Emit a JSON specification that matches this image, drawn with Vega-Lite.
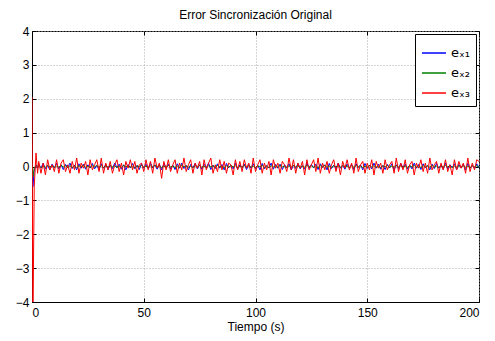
{
  "$schema": "https://vega.github.io/schema/vega-lite/v6.json",
  "autosize": "none",
  "width": 447,
  "height": 271,
  "padding": {"left": 32, "top": 31, "right": 16, "bottom": 39},
  "background": "white",
  "config": {
    "font": "Liberation Sans",
    "view": {"stroke": "black", "strokeWidth": 1},
    "axis": {"labelFont": "Liberation Sans", "titleFont": "Liberation Sans", "labelFontSize": 12, "titleFontSize": 12, "titleFontWeight": "normal", "labelColor": "black", "titleColor": "black", "domainColor": "black", "tickColor": "black", "gridColor": "#a8a8a8", "gridDash": [1, 2], "gridOpacity": 1, "tickSize": -4}
  },
  "title": {"text": "Error Sincronización Original", "font": "Liberation Sans", "fontSize": 12, "fontWeight": "normal", "color": "black", "offset": 3},
  "datasets": {
    "marco": [{"t": 0, "valor": 0}, {"t": 200, "valor": 0}],
    "errores": [
    {"t":0,"e1":0,"e2":0.1,"e3":2.05},
    {"t":0.4,"e1":-0.6,"e2":-0.3,"e3":-4.6},
    {"t":1,"e1":-0.1,"e2":-0.05,"e3":-0.6},
    {"t":1.8,"e1":0.05,"e2":0.03,"e3":0.4},
    {"t":2.5,"e1":-0.05,"e2":-0.02,"e3":-0.2},
    {"t":3,"e1":0.08,"e2":0.02,"e3":0.15},
    {"t":4,"e1":-0.05,"e2":-0.03,"e3":-0.2},
    {"t":5,"e1":0.1,"e2":0.01,"e3":0.1},
    {"t":6,"e1":-0.08,"e2":-0.02,"e3":-0.25},
    {"t":7,"e1":0.03,"e2":0.03,"e3":0.2},
    {"t":8,"e1":-0.1,"e2":-0.01,"e3":-0.1},
    {"t":9,"e1":0.07,"e2":0.02,"e3":0.05},
    {"t":10,"e1":-0.04,"e2":-0.03,"e3":-0.15},
    {"t":11,"e1":0.09,"e2":0.01,"e3":0.2},
    {"t":12,"e1":-0.07,"e2":-0.02,"e3":-0.2},
    {"t":13,"e1":0.05,"e2":0.03,"e3":0.1},
    {"t":14,"e1":-0.09,"e2":-0.01,"e3":0.2},
    {"t":15,"e1":0.06,"e2":0.02,"e3":-0.15},
    {"t":16,"e1":-0.03,"e2":-0.03,"e3":0.05},
    {"t":17,"e1":0.1,"e2":0.02,"e3":-0.2},
    {"t":18,"e1":-0.06,"e2":-0.02,"e3":0.15},
    {"t":19,"e1":0.04,"e2":0.01,"e3":-0.1},
    {"t":20,"e1":-0.1,"e2":-0.03,"e3":0.25},
    {"t":21,"e1":0.08,"e2":0.02,"e3":-0.2},
    {"t":22,"e1":-0.05,"e2":-0.01,"e3":0.1},
    {"t":23,"e1":0.07,"e2":0.03,"e3":-0.05},
    {"t":24,"e1":-0.08,"e2":-0.02,"e3":0.15},
    {"t":25,"e1":0.05,"e2":0.01,"e3":-0.25},
    {"t":26,"e1":-0.04,"e2":-0.03,"e3":0.2},
    {"t":27,"e1":0.09,"e2":0.02,"e3":-0.1},
    {"t":28,"e1":-0.07,"e2":-0.01,"e3":0.05},
    {"t":29,"e1":0.03,"e2":0.03,"e3":0.2},
    {"t":30,"e1":-0.1,"e2":-0.02,"e3":-0.15},
    {"t":31,"e1":0.08,"e2":0.02,"e3":0.25},
    {"t":32,"e1":-0.05,"e2":-0.03,"e3":-0.2},
    {"t":33,"e1":0.06,"e2":0.01,"e3":0.1},
    {"t":34,"e1":-0.09,"e2":-0.02,"e3":-0.1},
    {"t":35,"e1":0.04,"e2":0.03,"e3":0.15},
    {"t":36,"e1":-0.06,"e2":-0.01,"e3":-0.2},
    {"t":37,"e1":0.1,"e2":0.02,"e3":0.05},
    {"t":38,"e1":-0.03,"e2":-0.03,"e3":0.2},
    {"t":39,"e1":0.07,"e2":0.01,"e3":-0.15},
    {"t":40,"e1":-0.08,"e2":-0.02,"e3":0.1},
    {"t":41,"e1":0.05,"e2":0.03,"e3":-0.25},
    {"t":42,"e1":-0.1,"e2":-0.01,"e3":0.15},
    {"t":43,"e1":0.06,"e2":0.02,"e3":-0.05},
    {"t":44,"e1":-0.04,"e2":-0.02,"e3":0.2},
    {"t":45,"e1":0.09,"e2":0.01,"e3":-0.1},
    {"t":46,"e1":-0.07,"e2":-0.03,"e3":0.15},
    {"t":47,"e1":0.03,"e2":0.02,"e3":-0.2},
    {"t":48,"e1":-0.09,"e2":-0.01,"e3":0.05},
    {"t":49,"e1":0.08,"e2":0.03,"e3":0.1},
    {"t":50,"e1":-0.05,"e2":-0.02,"e3":-0.15},
    {"t":51,"e1":0.07,"e2":0.01,"e3":0.2},
    {"t":52,"e1":-0.06,"e2":-0.03,"e3":-0.1},
    {"t":53,"e1":0.1,"e2":0.02,"e3":0.15},
    {"t":54,"e1":-0.04,"e2":-0.01,"e3":-0.2},
    {"t":55,"e1":0.05,"e2":0.03,"e3":0.25},
    {"t":56,"e1":-0.08,"e2":-0.02,"e3":-0.05},
    {"t":57,"e1":0.06,"e2":0.02,"e3":0.1},
    {"t":58,"e1":-0.1,"e2":-0.03,"e3":-0.35},
    {"t":59,"e1":0.09,"e2":0.01,"e3":0.15},
    {"t":60,"e1":-0.03,"e2":-0.02,"e3":-0.1},
    {"t":61,"e1":0.07,"e2":0.03,"e3":0.2},
    {"t":62,"e1":-0.07,"e2":-0.01,"e3":-0.15},
    {"t":63,"e1":0.04,"e2":0.02,"e3":0.05},
    {"t":64,"e1":-0.09,"e2":-0.03,"e3":0.2},
    {"t":65,"e1":0.08,"e2":0.01,"e3":-0.2},
    {"t":66,"e1":-0.05,"e2":-0.02,"e3":0.1},
    {"t":67,"e1":0.1,"e2":0.03,"e3":-0.1},
    {"t":68,"e1":-0.06,"e2":-0.01,"e3":0.25},
    {"t":69,"e1":0.03,"e2":0.02,"e3":-0.15},
    {"t":70,"e1":-0.1,"e2":-0.02,"e3":0.05},
    {"t":71,"e1":0.06,"e2":0.01,"e3":0.2},
    {"t":72,"e1":-0.04,"e2":-0.03,"e3":-0.2},
    {"t":73,"e1":0.09,"e2":0.02,"e3":0.1},
    {"t":74,"e1":-0.07,"e2":-0.01,"e3":-0.05},
    {"t":75,"e1":0.05,"e2":0.03,"e3":0.15},
    {"t":76,"e1":-0.08,"e2":-0.02,"e3":-0.25},
    {"t":77,"e1":0.07,"e2":0.01,"e3":0.2},
    {"t":78,"e1":-0.03,"e2":-0.03,"e3":-0.1},
    {"t":79,"e1":0.1,"e2":0.02,"e3":0.1},
    {"t":80,"e1":-0.09,"e2":-0.01,"e3":0.25},
    {"t":81,"e1":0.04,"e2":0.02,"e3":-0.2},
    {"t":82,"e1":-0.06,"e2":-0.02,"e3":0.05},
    {"t":83,"e1":0.08,"e2":0.03,"e3":-0.15},
    {"t":84,"e1":-0.05,"e2":-0.01,"e3":0.2},
    {"t":85,"e1":0.06,"e2":0.01,"e3":-0.1},
    {"t":86,"e1":-0.1,"e2":-0.03,"e3":0.15},
    {"t":87,"e1":0.09,"e2":0.02,"e3":-0.2},
    {"t":88,"e1":-0.04,"e2":-0.02,"e3":0.1},
    {"t":89,"e1":0.03,"e2":0.03,"e3":0.05},
    {"t":90,"e1":-0.07,"e2":-0.01,"e3":-0.25},
    {"t":91,"e1":0.1,"e2":0.02,"e3":0.2},
    {"t":92,"e1":-0.08,"e2":-0.03,"e3":-0.1},
    {"t":93,"e1":0.05,"e2":0.01,"e3":0.15},
    {"t":94,"e1":-0.03,"e2":-0.02,"e3":-0.15},
    {"t":95,"e1":0.07,"e2":0.03,"e3":0.2},
    {"t":96,"e1":-0.09,"e2":-0.01,"e3":-0.05},
    {"t":97,"e1":0.06,"e2":0.02,"e3":0.1},
    {"t":98,"e1":-0.05,"e2":-0.02,"e3":-0.2},
    {"t":99,"e1":0.08,"e2":0.01,"e3":0.25},
    {"t":100,"e1":-0.06,"e2":-0.03,"e3":-0.15},
    {"t":101,"e1":0.04,"e2":0.02,"e3":0.05},
    {"t":102,"e1":-0.1,"e2":-0.01,"e3":0.2},
    {"t":103,"e1":0.09,"e2":0.03,"e3":-0.2},
    {"t":104,"e1":-0.07,"e2":-0.02,"e3":0.1},
    {"t":105,"e1":0.03,"e2":0.01,"e3":-0.1},
    {"t":106,"e1":-0.04,"e2":-0.03,"e3":0.15},
    {"t":107,"e1":0.1,"e2":0.02,"e3":-0.25},
    {"t":108,"e1":-0.08,"e2":-0.01,"e3":0.2},
    {"t":109,"e1":0.06,"e2":0.02,"e3":-0.05},
    {"t":110,"e1":-0.05,"e2":-0.02,"e3":0.1},
    {"t":111,"e1":0.07,"e2":0.03,"e3":-0.2},
    {"t":112,"e1":-0.09,"e2":-0.01,"e3":0.15},
    {"t":113,"e1":0.05,"e2":0.01,"e3":0.05},
    {"t":114,"e1":-0.03,"e2":-0.03,"e3":-0.15},
    {"t":115,"e1":0.08,"e2":0.02,"e3":0.25},
    {"t":116,"e1":-0.1,"e2":-0.02,"e3":-0.1},
    {"t":117,"e1":0.04,"e2":0.03,"e3":0.2},
    {"t":118,"e1":-0.06,"e2":-0.01,"e3":-0.2},
    {"t":119,"e1":0.09,"e2":0.02,"e3":0.1},
    {"t":120,"e1":-0.07,"e2":-0.03,"e3":-0.05},
    {"t":121,"e1":0.03,"e2":0.01,"e3":0.15},
    {"t":122,"e1":-0.08,"e2":-0.02,"e3":-0.25},
    {"t":123,"e1":0.1,"e2":0.03,"e3":0.2},
    {"t":124,"e1":-0.05,"e2":-0.01,"e3":-0.1},
    {"t":125,"e1":0.06,"e2":0.02,"e3":0.05},
    {"t":126,"e1":-0.04,"e2":-0.02,"e3":0.2},
    {"t":127,"e1":0.07,"e2":0.01,"e3":-0.15},
    {"t":128,"e1":-0.09,"e2":-0.03,"e3":0.25},
    {"t":129,"e1":0.08,"e2":0.02,"e3":-0.2},
    {"t":130,"e1":-0.03,"e2":-0.01,"e3":0.1},
    {"t":131,"e1":0.05,"e2":0.03,"e3":-0.1},
    {"t":132,"e1":-0.1,"e2":-0.02,"e3":0.15},
    {"t":133,"e1":0.09,"e2":0.01,"e3":-0.2},
    {"t":134,"e1":-0.06,"e2":-0.03,"e3":0.05},
    {"t":135,"e1":0.04,"e2":0.02,"e3":0.2},
    {"t":136,"e1":-0.07,"e2":-0.01,"e3":-0.15},
    {"t":137,"e1":0.1,"e2":0.02,"e3":0.1},
    {"t":138,"e1":-0.05,"e2":-0.02,"e3":-0.25},
    {"t":139,"e1":0.03,"e2":0.03,"e3":0.15},
    {"t":140,"e1":-0.08,"e2":-0.01,"e3":-0.05},
    {"t":141,"e1":0.07,"e2":0.01,"e3":0.2},
    {"t":142,"e1":-0.04,"e2":-0.03,"e3":-0.1},
    {"t":143,"e1":0.06,"e2":0.02,"e3":0.1},
    {"t":144,"e1":-0.09,"e2":-0.02,"e3":-0.2},
    {"t":145,"e1":0.08,"e2":0.03,"e3":0.25},
    {"t":146,"e1":-0.03,"e2":-0.01,"e3":-0.15},
    {"t":147,"e1":0.05,"e2":0.02,"e3":0.05},
    {"t":148,"e1":-0.1,"e2":-0.03,"e3":0.15},
    {"t":149,"e1":0.09,"e2":0.01,"e3":-0.2},
    {"t":150,"e1":-0.06,"e2":-0.02,"e3":0.1},
    {"t":151,"e1":0.04,"e2":0.03,"e3":-0.1},
    {"t":152,"e1":-0.07,"e2":-0.01,"e3":0.2},
    {"t":153,"e1":0.1,"e2":0.02,"e3":-0.25},
    {"t":154,"e1":-0.05,"e2":-0.02,"e3":0.15},
    {"t":155,"e1":0.07,"e2":0.01,"e3":-0.05},
    {"t":156,"e1":-0.08,"e2":-0.03,"e3":0.1},
    {"t":157,"e1":0.03,"e2":0.02,"e3":-0.2},
    {"t":158,"e1":-0.09,"e2":-0.01,"e3":0.2},
    {"t":159,"e1":0.06,"e2":0.03,"e3":-0.1},
    {"t":160,"e1":-0.04,"e2":-0.02,"e3":0.05},
    {"t":161,"e1":0.08,"e2":0.01,"e3":0.15},
    {"t":162,"e1":-0.1,"e2":-0.02,"e3":-0.2},
    {"t":163,"e1":0.05,"e2":0.03,"e3":0.25},
    {"t":164,"e1":-0.06,"e2":-0.01,"e3":-0.15},
    {"t":165,"e1":0.09,"e2":0.02,"e3":0.1},
    {"t":166,"e1":-0.03,"e2":-0.03,"e3":-0.1},
    {"t":167,"e1":0.07,"e2":0.01,"e3":0.2},
    {"t":168,"e1":-0.08,"e2":-0.02,"e3":-0.2},
    {"t":169,"e1":0.04,"e2":0.02,"e3":0.05},
    {"t":170,"e1":-0.07,"e2":-0.01,"e3":0.15},
    {"t":171,"e1":0.1,"e2":0.03,"e3":-0.25},
    {"t":172,"e1":-0.05,"e2":-0.02,"e3":0.1},
    {"t":173,"e1":0.06,"e2":0.01,"e3":-0.05},
    {"t":174,"e1":-0.09,"e2":-0.03,"e3":0.2},
    {"t":175,"e1":0.08,"e2":0.02,"e3":-0.15},
    {"t":176,"e1":-0.04,"e2":-0.01,"e3":0.1},
    {"t":177,"e1":0.03,"e2":0.02,"e3":-0.2},
    {"t":178,"e1":-0.1,"e2":-0.02,"e3":0.25},
    {"t":179,"e1":0.07,"e2":0.03,"e3":-0.1},
    {"t":180,"e1":-0.06,"e2":-0.01,"e3":0.05},
    {"t":181,"e1":0.09,"e2":0.01,"e3":0.15},
    {"t":182,"e1":-0.05,"e2":-0.03,"e3":-0.2},
    {"t":183,"e1":0.04,"e2":0.02,"e3":0.1},
    {"t":184,"e1":-0.08,"e2":-0.02,"e3":-0.1},
    {"t":185,"e1":0.1,"e2":0.03,"e3":0.2},
    {"t":186,"e1":-0.07,"e2":-0.01,"e3":-0.15},
    {"t":187,"e1":0.05,"e2":0.02,"e3":0.05},
    {"t":188,"e1":-0.03,"e2":-0.03,"e3":-0.25},
    {"t":189,"e1":0.08,"e2":0.01,"e3":0.2},
    {"t":190,"e1":-0.09,"e2":-0.02,"e3":-0.1},
    {"t":191,"e1":0.06,"e2":0.02,"e3":0.15},
    {"t":192,"e1":-0.04,"e2":-0.01,"e3":-0.05},
    {"t":193,"e1":0.07,"e2":0.03,"e3":0.1},
    {"t":194,"e1":-0.1,"e2":-0.02,"e3":-0.2},
    {"t":195,"e1":0.09,"e2":0.01,"e3":0.25},
    {"t":196,"e1":-0.05,"e2":-0.03,"e3":-0.15},
    {"t":197,"e1":0.03,"e2":0.02,"e3":0.1},
    {"t":198,"e1":-0.06,"e2":-0.01,"e3":-0.1},
    {"t":199,"e1":0.08,"e2":0.02,"e3":0.2},
    {"t":200,"e1":-0.04,"e2":-0.02,"e3":0.15}
  ]},
  "layer": [
    {
      "data": {"name": "errores"},
      "transform": [{"fold": ["e1", "e2", "e3"], "as": ["serie", "valor"]}],
      "mark": {"type": "line", "clip": true, "strokeWidth": 1},
      "encoding": {
        "x": {"field": "t", "type": "quantitative", "scale": {"domain": [0, 200], "nice": false, "zero": false}, "axis": {"orient": "bottom", "values": [0, 50, 100, 150, 200], "title": "Tiempo (s)", "titlePadding": 3, "labelPadding": 9, "grid": true}},
        "y": {"field": "valor", "type": "quantitative", "scale": {"domain": [-4, 4], "nice": false}, "axis": {"orient": "left", "values": [-4, -3, -2, -1, 0, 1, 2, 3, 4], "title": null, "labelPadding": 7, "grid": true}},
        "color": {"field": "serie", "type": "nominal", "scale": {"domain": ["e1", "e2", "e3"], "range": ["#0000ff", "#008000", "#ff0000"]},
          "legend": {"title": null, "orient": "top-right", "offset": 3, "strokeColor": "black", "fillColor": "white", "padding": 6, "symbolType": "stroke", "symbolSize": 576, "symbolStrokeWidth": 1.5, "rowPadding": 0, "labelFontSize": 13, "labelFont": "DejaVu Sans", "labelColor": "black", "labelExpr": "datum.label == 'e1' ? 'eₓ₁' : datum.label == 'e2' ? 'eₓ₂' : 'eₓ₃'"}}
      }
    },
    {
      "data": {"name": "marco"},
      "mark": {"type": "rule", "opacity": 0},
      "encoding": {
        "x": {"field": "t", "type": "quantitative", "axis": {"orient": "top", "values": [0, 50, 100, 150, 200], "labels": false, "title": null, "grid": false, "domain": false}},
        "y": {"field": "valor", "type": "quantitative", "axis": {"orient": "right", "values": [-4, -3, -2, -1, 0, 1, 2, 3, 4], "labels": false, "title": null, "grid": false, "domain": false}}
      }
    }
  ],
  "resolve": {"axis": {"x": "independent", "y": "independent"}}
}
